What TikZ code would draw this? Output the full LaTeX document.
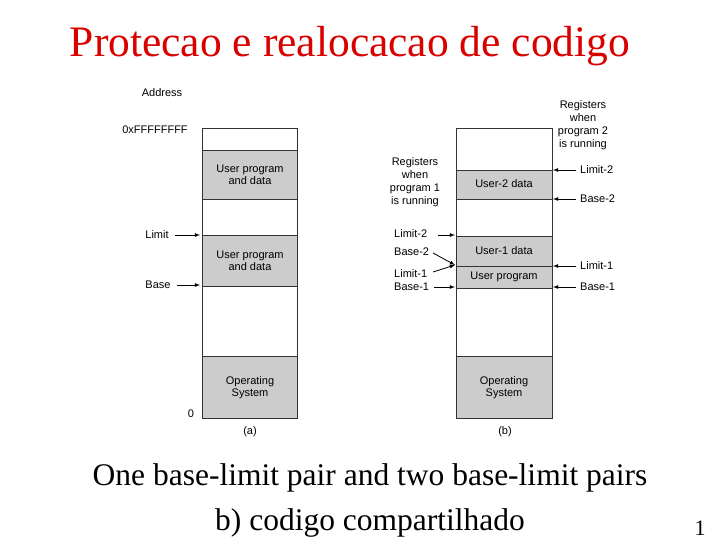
\documentclass[tikz,border=0pt]{standalone}
\usepackage{fontspec}
\setmainfont{Liberation Serif}
\newfontfamily\lab{Liberation Sans}
\begin{document}
\begin{tikzpicture}[x=1pt,y=-1pt,
  gray box/.style={fill=black!20,draw=black!80,line width=0.8pt},
  white box/.style={fill=white,draw=black!80,line width=0.8pt},
  lbl/.style={font=\lab\fontsize{11}{12}\selectfont,inner sep=0pt,align=center},
  arr/.style={-latex,line width=0.8pt},
  big/.style={font=\fontsize{31.5}{34}\selectfont,inner sep=0pt}]
\useasboundingbox (0,0) rectangle (720,540);
\node[font=\fontsize{43.5}{46}\selectfont,text=red!85!black,inner sep=0pt] (title) at (350,46) {Protecao e realocacao de codigo};
% left
\draw[white box] (202,128) rectangle (297,418);
\draw[gray box] (202,150) rectangle (297,199);
\draw[gray box] (202,235) rectangle (297,286);
\draw[gray box] (202,356) rectangle (297,418);
\node[lbl] (u1) at (250,175) {User program\\and data};
\node[lbl] (u2) at (250,261) {User program\\and data};
\node[lbl] (os1) at (250,388) {Operating\\System};
\node[lbl] (addr) at (162,93) {Address};
\node[lbl] (ff) at (155,130) {0xFFFFFFFF};
\node[lbl] (lim) at (157,235) {Limit};
\node[lbl] (base) at (158,285) {Base};
\node[lbl] (zero) at (191,414) {0};
\node[lbl] (a) at (250,432) {(a)};
\coordinate (limA) at (200,235); \coordinate (baseA) at (200,285);
\draw[arr] (lim.east)++(6,0) -- (limA);
\draw[arr] (base.east)++(6,0) -- (baseA);
% right
\draw[white box] (456,128) rectangle (552,418);
\draw[gray box] (456,170) rectangle (552,199);
\draw[gray box] (456,236) rectangle (552,288);
\draw[black!80,line width=0.8pt] (456,266) -- (552,266);
\draw[gray box] (456,356) rectangle (552,418);
\node[lbl] (u2d) at (504,184) {User-2 data};
\node[lbl] (u1d) at (504,251) {User-1 data};
\node[lbl] (up) at (504,277) {User program};
\node[lbl] (os2) at (504,388) {Operating\\System};
\node[lbl] (b) at (505,432) {(b)};
\node[lbl,font=\lab\fontsize{11}{13.2}\selectfont] (r1) at (415,182) {Registers\\when\\program 1\\is running};
\node[lbl,font=\lab\fontsize{11}{13.2}\selectfont] (r2) at (583,125) {Registers\\when\\program 2\\is running};
\node[lbl,anchor=west] (l2) at (394,234) {Limit-2};
\node[lbl,anchor=west] (b2) at (394,252) {Base-2};
\node[lbl,anchor=west] (l1) at (394,274) {Limit-1};
\node[lbl,anchor=west] (b1) at (394,287) {Base-1};
\coordinate (pL2) at (455,235); \coordinate (pM) at (455,265); \coordinate (pB1) at (455,287);
\draw[arr] (438,235) -- (pL2);
\draw[arr] (433,253) -- (pM);
\draw[arr] (433,272) -- (pM);
\draw[arr] (434,287) -- (pB1);
\node[lbl,anchor=west] (rl2) at (580,170) {Limit-2};
\node[lbl,anchor=west] (rb2) at (580,199) {Base-2};
\node[lbl,anchor=west] (rl1) at (580,266) {Limit-1};
\node[lbl,anchor=west] (rb1) at (580,287) {Base-1};
\draw[arr] (rl2.west)++(-4,0) -- (553,170);
\draw[arr] (rb2.west)++(-4,0) -- (553,199);
\draw[arr] (rl1.west)++(-4,0) -- (553,266);
\draw[arr] (rb1.west)++(-4,0) -- (553,287);
% bottom
\node[big] (t1) at (370,478) {One base-limit pair and two base-limit pairs};
\node[big] (t2) at (370,523) {b) codigo compartilhado};
\node[font=\fontsize{22}{24}\selectfont,inner sep=0pt] (pg) at (700,528) {1};
\end{tikzpicture}
\end{document}
